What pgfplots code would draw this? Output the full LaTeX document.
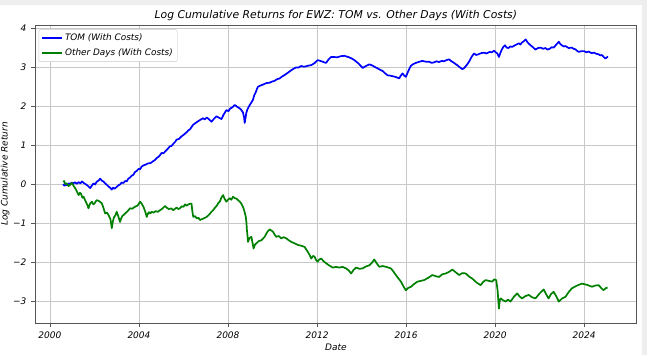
\documentclass[border=0pt]{standalone}
\usepackage{pgfplots}
\pgfplotsset{compat=1.18}
\usepackage{fontspec}
\setmainfont{DejaVu Sans}
\definecolor{mplgreen}{RGB}{0,128,0}
\definecolor{mplblue}{RGB}{0,0,255}
\definecolor{gridgray}{RGB}{200,200,200}
\definecolor{framegray}{RGB}{85,85,85}
\definecolor{bandgray}{RGB}{238,238,238}

\pgfplotstableread{
x y
2000.59 0.00
2000.65 -0.04
2000.70 -0.01
2000.77 -0.03
2000.84 0.02
2000.90 0.00
2000.98 0.04
2001.06 0.02
2001.13 0.05
2001.20 0.01
2001.30 0.05
2001.37 0.02
2001.44 0.07
2001.52 0.03
2001.60 0.00
2001.68 -0.03
2001.75 -0.07
2001.81 -0.10
2001.88 -0.04
2001.96 0.02
2002.03 -0.01
2002.10 0.06
2002.18 0.09
2002.26 0.14
2002.33 0.09
2002.40 0.07
2002.48 0.02
2002.56 -0.02
2002.63 -0.06
2002.70 -0.09
2002.78 -0.14
2002.84 -0.09
2002.90 -0.12
2003.00 -0.07
2003.08 -0.03
2003.15 -0.01
2003.22 0.04
2003.30 0.03
2003.38 0.08
2003.45 0.07
2003.52 0.14
2003.60 0.17
2003.68 0.22
2003.75 0.24
2003.82 0.31
2003.90 0.34
2003.98 0.39
2004.05 0.38
2004.12 0.45
2004.20 0.48
2004.30 0.50
2004.40 0.53
2004.52 0.54
2004.64 0.59
2004.72 0.62
2004.80 0.67
2004.90 0.71
2005.02 0.80
2005.10 0.79
2005.20 0.85
2005.30 0.91
2005.39 0.97
2005.47 0.98
2005.55 1.04
2005.62 1.08
2005.69 1.14
2005.80 1.16
2005.90 1.22
2006.02 1.27
2006.14 1.33
2006.22 1.38
2006.30 1.41
2006.37 1.47
2006.43 1.52
2006.55 1.57
2006.65 1.61
2006.76 1.65
2006.88 1.69
2006.96 1.66
2007.05 1.71
2007.15 1.66
2007.26 1.60
2007.36 1.67
2007.48 1.74
2007.60 1.70
2007.71 1.67
2007.80 1.78
2007.93 1.90
2008.02 1.87
2008.10 1.94
2008.20 1.97
2008.30 2.03
2008.42 1.98
2008.53 1.94
2008.60 1.90
2008.67 1.84
2008.72 1.72
2008.75 1.57
2008.79 1.70
2008.82 1.82
2008.86 1.90
2008.90 1.95
2009.00 2.05
2009.12 2.16
2009.18 2.28
2009.25 2.36
2009.30 2.44
2009.35 2.50
2009.47 2.53
2009.60 2.56
2009.72 2.59
2009.87 2.60
2009.98 2.63
2010.10 2.65
2010.20 2.69
2010.32 2.71
2010.43 2.76
2010.55 2.80
2010.70 2.86
2010.84 2.92
2010.95 2.96
2011.05 2.99
2011.17 2.99
2011.29 3.03
2011.40 3.01
2011.50 3.02
2011.62 3.04
2011.74 3.05
2011.88 3.10
2012.03 3.18
2012.14 3.16
2012.25 3.14
2012.33 3.12
2012.41 3.11
2012.52 3.20
2012.63 3.26
2012.77 3.26
2012.90 3.25
2013.06 3.28
2013.23 3.29
2013.34 3.27
2013.45 3.25
2013.56 3.22
2013.68 3.18
2013.78 3.13
2013.85 3.10
2013.95 3.04
2014.05 2.98
2014.20 3.03
2014.35 3.07
2014.45 3.05
2014.55 3.02
2014.64 2.99
2014.72 2.97
2014.84 2.93
2014.95 2.90
2015.06 2.84
2015.17 2.79
2015.30 2.78
2015.45 2.76
2015.57 2.74
2015.69 2.71
2015.76 2.78
2015.84 2.84
2015.92 2.78
2015.99 2.75
2016.10 2.90
2016.21 3.03
2016.30 3.07
2016.40 3.10
2016.55 3.13
2016.73 3.16
2016.88 3.14
2017.03 3.14
2017.14 3.11
2017.25 3.12
2017.36 3.15
2017.48 3.13
2017.60 3.16
2017.70 3.15
2017.82 3.18
2017.93 3.20
2018.04 3.15
2018.15 3.11
2018.22 3.08
2018.30 3.05
2018.38 3.01
2018.45 2.98
2018.52 2.95
2018.60 2.97
2018.72 3.05
2018.83 3.14
2018.94 3.26
2019.05 3.35
2019.15 3.31
2019.25 3.33
2019.38 3.36
2019.50 3.37
2019.62 3.35
2019.75 3.39
2019.85 3.38
2019.95 3.42
2020.03 3.38
2020.10 3.35
2020.17 3.26
2020.24 3.37
2020.30 3.45
2020.37 3.52
2020.44 3.56
2020.52 3.50
2020.60 3.49
2020.68 3.53
2020.77 3.52
2020.92 3.57
2021.07 3.61
2021.14 3.58
2021.20 3.63
2021.28 3.66
2021.37 3.71
2021.45 3.64
2021.55 3.58
2021.68 3.52
2021.81 3.45
2021.93 3.49
2022.05 3.50
2022.15 3.47
2022.26 3.49
2022.35 3.45
2022.45 3.47
2022.54 3.51
2022.63 3.50
2022.75 3.58
2022.86 3.65
2022.93 3.59
2023.00 3.56
2023.08 3.53
2023.16 3.54
2023.30 3.49
2023.45 3.50
2023.52 3.47
2023.60 3.46
2023.68 3.42
2023.75 3.39
2023.88 3.41
2024.00 3.41
2024.10 3.38
2024.20 3.40
2024.32 3.36
2024.45 3.37
2024.55 3.34
2024.65 3.33
2024.72 3.30
2024.80 3.31
2024.88 3.26
2024.95 3.22
2025.02 3.25
2025.07 3.27
}\tomdata

\pgfplotstableread{
x y
2000.59 0.06
2000.64 0.08
2000.69 0.00
2000.76 0.02
2000.84 -0.05
2000.92 -0.01
2000.99 0.03
2001.06 -0.04
2001.14 -0.11
2001.22 -0.20
2001.29 -0.28
2001.35 -0.22
2001.40 -0.25
2001.46 -0.35
2001.51 -0.32
2001.57 -0.40
2001.62 -0.46
2001.68 -0.53
2001.73 -0.62
2001.80 -0.50
2001.89 -0.45
2001.95 -0.52
2002.00 -0.50
2002.06 -0.44
2002.11 -0.41
2002.22 -0.44
2002.33 -0.49
2002.40 -0.60
2002.48 -0.75
2002.56 -0.73
2002.63 -0.79
2002.72 -0.90
2002.78 -1.13
2002.83 -0.95
2002.88 -0.85
2002.94 -0.80
2003.00 -0.71
2003.07 -0.82
2003.15 -0.97
2003.20 -0.88
2003.25 -0.82
2003.31 -0.79
2003.38 -0.75
2003.48 -0.70
2003.60 -0.62
2003.70 -0.63
2003.82 -0.58
2003.94 -0.55
2004.05 -0.45
2004.12 -0.50
2004.20 -0.58
2004.28 -0.70
2004.35 -0.84
2004.40 -0.76
2004.45 -0.72
2004.51 -0.75
2004.57 -0.71
2004.66 -0.73
2004.75 -0.69
2004.85 -0.71
2004.94 -0.67
2005.05 -0.63
2005.17 -0.56
2005.26 -0.61
2005.35 -0.64
2005.45 -0.62
2005.54 -0.67
2005.62 -0.63
2005.70 -0.60
2005.77 -0.64
2005.84 -0.62
2005.92 -0.57
2006.00 -0.58
2006.07 -0.52
2006.14 -0.55
2006.25 -0.51
2006.36 -0.50
2006.40 -0.70
2006.44 -0.84
2006.52 -0.82
2006.60 -0.88
2006.67 -0.86
2006.74 -0.92
2006.90 -0.88
2007.04 -0.84
2007.12 -0.80
2007.20 -0.75
2007.27 -0.70
2007.33 -0.67
2007.42 -0.60
2007.50 -0.55
2007.57 -0.48
2007.63 -0.45
2007.70 -0.35
2007.78 -0.28
2007.85 -0.38
2007.93 -0.45
2008.00 -0.40
2008.08 -0.36
2008.15 -0.40
2008.23 -0.32
2008.30 -0.36
2008.38 -0.37
2008.45 -0.41
2008.53 -0.45
2008.60 -0.50
2008.67 -0.58
2008.74 -0.70
2008.80 -0.84
2008.83 -1.00
2008.85 -1.18
2008.88 -1.35
2008.90 -1.48
2008.97 -1.38
2009.05 -1.35
2009.10 -1.50
2009.15 -1.65
2009.21 -1.55
2009.27 -1.52
2009.38 -1.46
2009.50 -1.44
2009.58 -1.39
2009.65 -1.35
2009.76 -1.23
2009.87 -1.16
2009.95 -1.19
2010.02 -1.22
2010.10 -1.30
2010.17 -1.35
2010.28 -1.33
2010.39 -1.39
2010.50 -1.36
2010.62 -1.39
2010.73 -1.44
2010.84 -1.48
2011.00 -1.52
2011.14 -1.56
2011.30 -1.58
2011.44 -1.61
2011.52 -1.68
2011.59 -1.74
2011.67 -1.82
2011.74 -1.91
2011.82 -1.84
2011.89 -1.86
2011.96 -1.95
2012.03 -1.99
2012.10 -1.93
2012.19 -1.91
2012.30 -1.98
2012.41 -2.03
2012.56 -2.09
2012.71 -2.14
2012.85 -2.12
2013.00 -2.14
2013.15 -2.12
2013.30 -2.16
2013.42 -2.21
2013.53 -2.29
2013.64 -2.20
2013.75 -2.14
2013.90 -2.17
2014.05 -2.16
2014.20 -2.11
2014.35 -2.08
2014.46 -2.02
2014.57 -1.93
2014.68 -2.03
2014.80 -2.12
2014.95 -2.10
2015.10 -2.12
2015.21 -2.14
2015.32 -2.16
2015.43 -2.24
2015.54 -2.33
2015.66 -2.42
2015.77 -2.50
2015.88 -2.62
2015.99 -2.72
2016.10 -2.66
2016.22 -2.63
2016.36 -2.56
2016.51 -2.50
2016.66 -2.48
2016.81 -2.46
2017.00 -2.40
2017.18 -2.33
2017.33 -2.36
2017.48 -2.38
2017.63 -2.31
2017.78 -2.29
2017.93 -2.25
2018.08 -2.19
2018.23 -2.26
2018.38 -2.33
2018.53 -2.28
2018.68 -2.29
2018.83 -2.37
2018.97 -2.42
2019.16 -2.52
2019.35 -2.59
2019.46 -2.51
2019.57 -2.46
2019.72 -2.48
2019.87 -2.50
2019.96 -2.44
2020.05 -2.46
2020.11 -2.72
2020.17 -3.19
2020.21 -2.98
2020.25 -2.93
2020.36 -2.98
2020.47 -3.01
2020.58 -2.96
2020.69 -3.01
2020.84 -2.89
2020.99 -2.80
2021.10 -2.88
2021.21 -2.93
2021.36 -2.87
2021.51 -2.84
2021.66 -2.90
2021.81 -2.93
2022.00 -2.80
2022.18 -2.70
2022.29 -2.82
2022.40 -2.93
2022.51 -2.82
2022.63 -2.76
2022.75 -2.88
2022.86 -3.01
2023.01 -2.93
2023.16 -2.89
2023.30 -2.77
2023.45 -2.67
2023.68 -2.60
2023.90 -2.55
2024.12 -2.58
2024.35 -2.63
2024.50 -2.60
2024.65 -2.59
2024.76 -2.66
2024.87 -2.72
2024.96 -2.67
2025.05 -2.65
}\otherdata

\begin{document}
\begin{tikzpicture}[x=1pt,y=1pt]
\path[use as bounding box] (-35,-32) rectangle (612,323);
\fill[bandgray] (-35,318) rectangle (612,323);
\fill[bandgray] (607,-32) rectangle (612,323);
\begin{axis}[
  at={(0,0)}, anchor=south west,
  scale only axis,
  width=601.7pt, height=298pt,
  xmin=1999.33, xmax=2026.36,
  ymin=-3.56, ymax=4.08,
  xtick={2000,2004,2008,2012,2016,2020,2024},
  xticklabels={2000,2004,2008,2012,2016,2020,2024},
  ytick={-3,-2,-1,0,1,2,3,4},
  yticklabels={−3,−2,−1,0,1,2,3,4},
  tick pos=left,
  tick align=outside,
  major tick length=4pt,
  tick style={framegray, line width=0.7pt},
  axis line style={framegray, line width=0.9pt},
  grid=major,
  major grid style={gridgray, line width=0.7pt},
  tick label style={font=\fontsize{9}{10}\selectfont\itshape},
  xticklabel style={yshift=-1pt},
  yticklabel style={xshift=-1pt},
  title={Log Cumulative Returns for EWZ: TOM vs. Other Days (With Costs)},
  title style={font=\fontsize{10.8}{12}\selectfont\itshape, at={(axis description cs:0.5,1)}, anchor=south, yshift=-5pt},
  xlabel={Date},
  ylabel={Log Cumulative Return},
  xlabel style={font=\fontsize{9}{10}\selectfont\itshape, at={(axis description cs:0.5,0)}, anchor=north, yshift=-17pt},
  ylabel style={font=\fontsize{9}{10}\selectfont\itshape, at={(axis description cs:0,0.5)}, anchor=south, xshift=0pt, yshift=22pt},
  legend style={at={(axis description cs:0.006,0.985)}, anchor=north west,
    draw=gridgray, rounded corners=2pt, fill=white,
    font=\fontsize{8.9}{10}\selectfont\itshape, row sep=2.5pt, inner sep=2.5pt},
  legend cell align=left,
  legend image code/.code={\draw[#1] (0pt,0pt) -- (20pt,0pt);},
]
\addplot[draw=mplblue, line width=1.7pt, line join=round] table[x=x,y=y] {\tomdata};
\addlegendentry{TOM (With Costs)}
\addplot[draw=mplgreen, line width=1.7pt, line join=round] table[x=x,y=y] {\otherdata};
\addlegendentry{Other Days (With Costs)}
\end{axis}
\end{tikzpicture}
\end{document}
